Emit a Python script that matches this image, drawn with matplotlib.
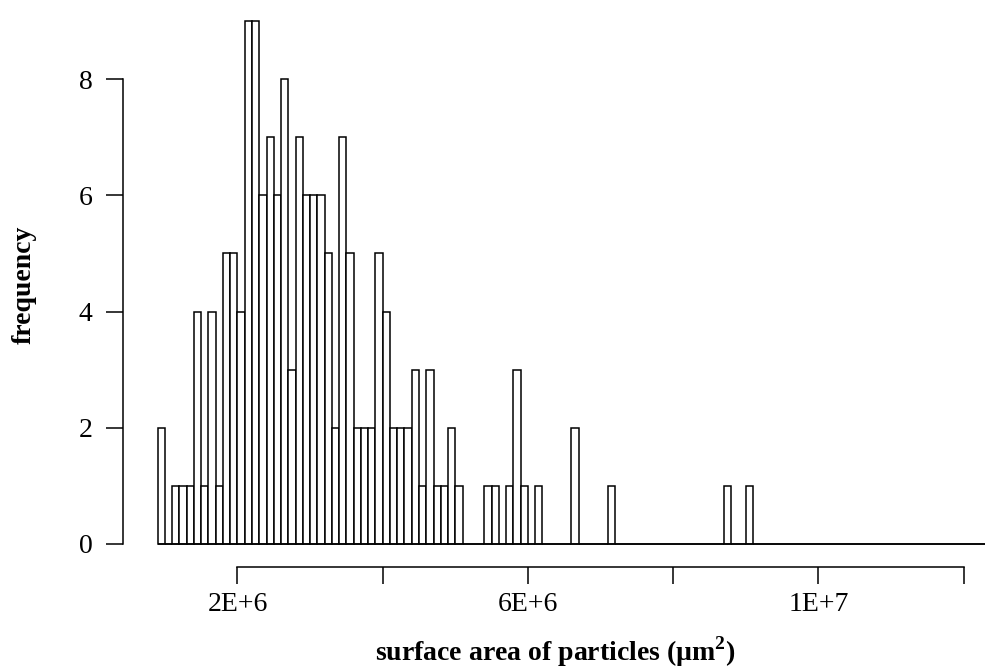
import numpy as np
import matplotlib.pyplot as plt

plt.rcParams['font.family'] = ['Liberation Serif', 'DejaVu Serif']
plt.rcParams['mathtext.fontset'] = 'custom'
plt.rcParams['mathtext.rm'] = 'Liberation Serif'
plt.rcParams['mathtext.bf'] = 'Liberation Serif:bold'

# histogram of particle surface areas, bins of 1E+5 starting at 9E+5
first_edge = 0.9e6
bin_width = 1e5
counts = [2, 0, 1, 1, 1, 4, 1, 4, 1, 5, 5, 4, 9, 9, 6, 7, 6, 8, 3, 7,
          6, 6, 6, 5, 2, 7, 5, 2, 2, 2, 5, 4, 2, 2, 2, 3, 1, 3, 1, 1,
          2, 1, 0, 0, 0, 1, 1, 0, 1, 3, 1, 0, 1, 0, 0, 0, 0, 2, 0, 0,
          0, 0, 1, 0, 0, 0, 0, 0, 0, 0, 0, 0, 0, 0, 0, 0, 0, 0, 1, 0,
          0, 1, 0, 0, 0, 0, 0, 0, 0, 0, 0, 0, 0, 0, 0, 0, 0, 0, 0, 0,
          0, 0, 0, 0, 0, 0, 0, 0, 0, 0, 0, 0, 0, 0]
edges = first_edge + bin_width * np.arange(len(counts))

xticks = [2e6, 4e6, 6e6, 8e6, 10e6, 12e6]
xticklabels = ['2E+6', '', '6E+6', '', '1E+7', '']
yticks = [0, 2, 4, 6, 8]

fig = plt.figure(figsize=(9.88, 6.71), dpi=100)
ax = fig.add_axes([123/988, 1 - 567/671, 865/988, 567/671])
ax.bar(edges, counts, width=bin_width, align='edge', color='white',
       edgecolor='black', linewidth=1.1)
ax.hlines(0, edges[0], edges[-1] + bin_width, color='black', linewidth=1.1)

ax.set_xlim(0.423e6, 12.337e6)
ax.set_ylim(-0.396, 9.36)

for s in ['top', 'right']:
    ax.spines[s].set_visible(False)
ax.spines['left'].set_bounds(0, 8)
ax.spines['bottom'].set_bounds(2e6, 12e6)
ax.spines['left'].set_linewidth(1.1)
ax.spines['bottom'].set_linewidth(1.1)

ax.set_xticks(xticks)
ax.set_xticklabels(xticklabels)
ax.set_yticks(yticks)
ax.tick_params(axis='both', direction='out', length=12, width=1.1, labelsize=20)
ax.tick_params(axis='y', pad=10)
ax.tick_params(axis='x', pad=6)

fig.text(24/988, 1 - 285/671, 'frequency', rotation=90, ha='center', va='center',
         fontsize=20, fontweight='bold')
fig.text(555/988, 1 - 652/671, r'surface area of particles (µm$^{\mathbf{2}}$)',
         ha='center', va='center', fontsize=20, fontweight='bold')

fig.savefig('out.png', dpi=100)
